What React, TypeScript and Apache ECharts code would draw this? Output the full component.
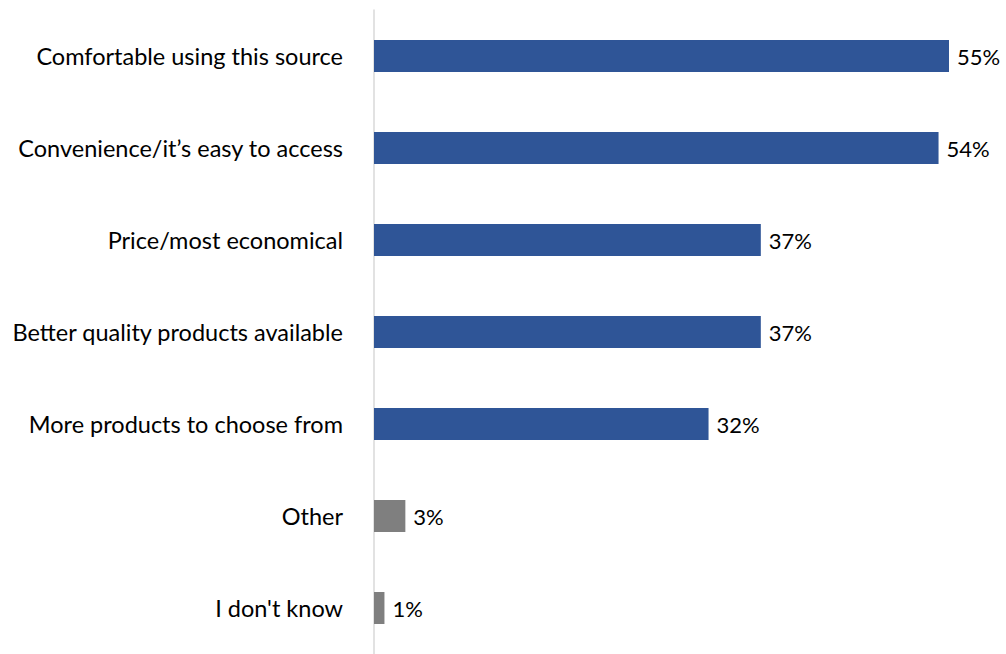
import React, { useEffect, useRef } from "react";
import * as echarts from "echarts";

const categories = [
  "Comfortable using this source",
  "Convenience/it’s easy to access",
  "Price/most economical",
  "Better quality products available",
  "More products to choose from",
  "Other",
  "I don't know",
];
const values = [55, 54, 37, 37, 32, 3, 1];
const barColors = ["#2F5597", "#2F5597", "#2F5597", "#2F5597", "#2F5597", "#7F7F7F", "#7F7F7F"];

export default function App() {
  const ref = useRef<HTMLDivElement>(null);
  useEffect(() => {
    if (!ref.current) return;
    const chart = echarts.init(ref.current, undefined, { renderer: "svg" });
    chart.setOption({
      animation: false,
      textStyle: { fontFamily: "Lato" },
      grid: { left: 374, top: 10, width: 575, height: 651, containLabel: false },
      xAxis: {
        type: "value",
        min: 0,
        max: 55,
        show: false,
      },
      yAxis: {
        type: "category",
        data: categories,
        inverse: true,
        axisLine: { show: true, lineStyle: { color: "#D9D9D9", width: 1.5 } },
        axisTick: { show: false },
        axisLabel: { color: "#000", fontSize: 23.5, margin: 31, fontFamily: "Lato", padding: [0, 0, 3, 0] },
      },
      series: [
        {
          type: "bar",
          data: values.map((v, i) => ({ value: v, itemStyle: { color: barColors[i] } })),
          barWidth: 32,
          label: {
            show: true,
            position: "right",
            distance: 8,
            formatter: "{c}%",
            color: "#000",
            fontSize: 22,
            fontFamily: "Lato",
          },
        },
      ],
    });
    return () => chart.dispose();
  }, []);
  return <div ref={ref} style={{ width: 1006, height: 654, position: "absolute", left: 0, top: 0, background: "#fff" }} />;
}
